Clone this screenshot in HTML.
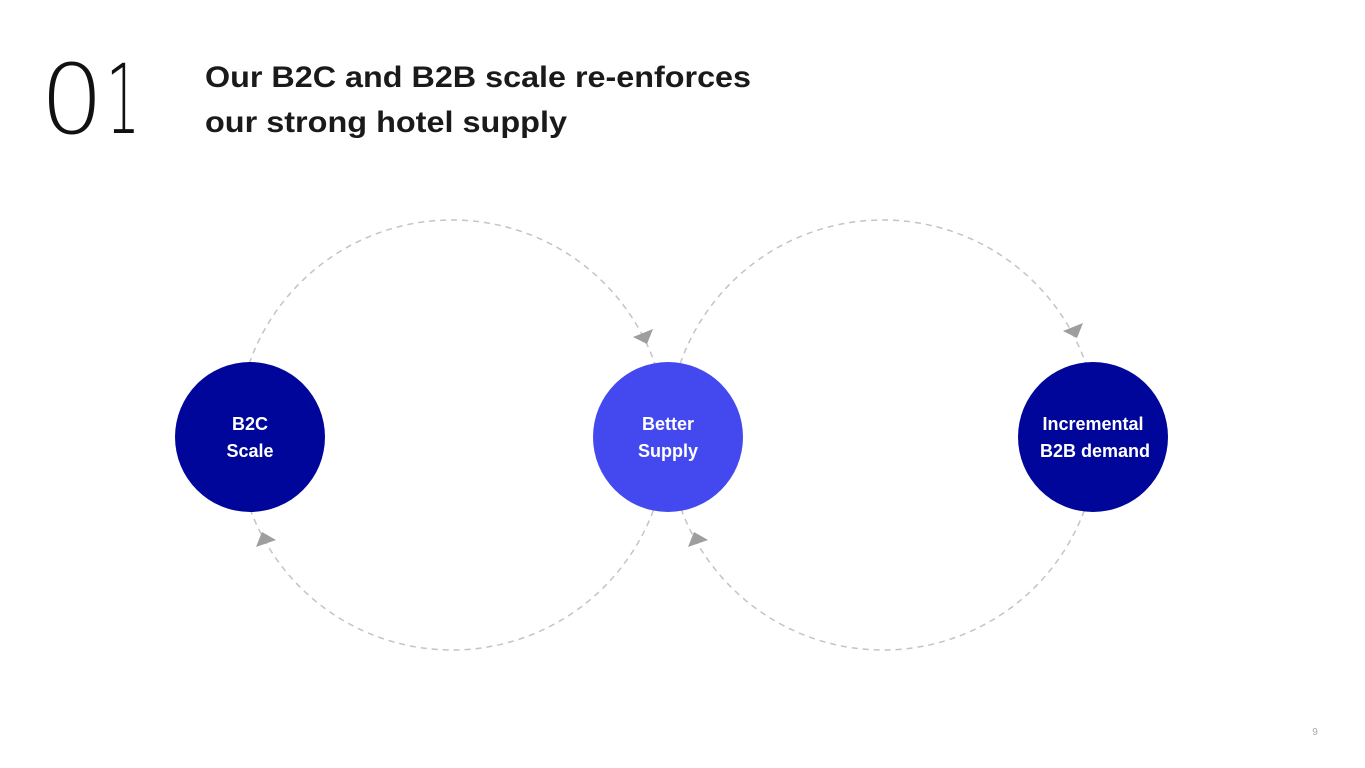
<!DOCTYPE html>
<html><head><meta charset="utf-8"><style>
html,body{margin:0;padding:0;background:#fff;}
body{width:1365px;height:768px;position:relative;overflow:hidden;font-family:"Liberation Sans",sans-serif;}
</style></head><body>
<svg width="1365" height="768" viewBox="0 0 1365 768" style="position:absolute;left:0;top:0">
<text x="40" y="133" font-family="DejaVu Sans ExtraLight, DejaVu Sans, sans-serif" font-size="96" font-weight="200" fill="#111" textLength="64" lengthAdjust="spacingAndGlyphs">0</text>
<text x="106" y="133" font-family="DejaVu Sans ExtraLight, DejaVu Sans, sans-serif" font-size="96" font-weight="200" fill="#111" textLength="34" lengthAdjust="spacingAndGlyphs">1</text>
<text x="205" y="87" font-family="Liberation Sans, sans-serif" font-size="30" font-weight="bold" fill="#1a1a1a" textLength="546" lengthAdjust="spacingAndGlyphs">Our B2C and B2B scale re-enforces</text>
<text x="205" y="132" font-family="Liberation Sans, sans-serif" font-size="30" font-weight="bold" fill="#1a1a1a" textLength="362" lengthAdjust="spacingAndGlyphs">our strong hotel supply</text>
<circle cx="452" cy="435" r="215" fill="none" stroke="#c4c4c4" stroke-width="1.5" stroke-dasharray="6 5"/>
<circle cx="883" cy="435" r="215" fill="none" stroke="#c4c4c4" stroke-width="1.5" stroke-dasharray="6 5"/>
<g fill="#9e9e9e">
<polygon points="633,337 653,329 647,344"/>
<polygon points="1063,331 1083,323 1077,338"/>
<polygon points="276,540 256,547 262,532"/>
<polygon points="708,540 688,547 694,532"/>
</g>
<circle cx="250" cy="437" r="75" fill="#00069a"/>
<circle cx="668" cy="437" r="75" fill="#4349ef"/>
<circle cx="1093" cy="437" r="75" fill="#00069a"/>
<g font-family="Liberation Sans, sans-serif" font-size="18" font-weight="bold" fill="#fff" text-anchor="middle">
<text x="250" y="430">B2C</text><text x="250" y="457">Scale</text>
<text x="668" y="430">Better</text><text x="668" y="457">Supply</text>
<text x="1093" y="430">Incremental</text><text x="1095" y="457">B2B demand</text>
</g>
<text x="1315" y="735" font-family="Liberation Sans, sans-serif" font-size="10" fill="#aaa" text-anchor="middle">9</text>
</svg>
</body></html>
